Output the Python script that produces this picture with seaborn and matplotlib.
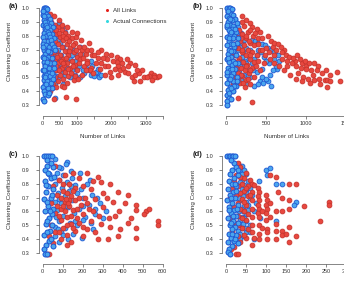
import matplotlib
matplotlib.use("Agg")
import matplotlib.pyplot as plt
from matplotlib.lines import Line2D
import pandas as pd
import seaborn as sns

# (links, clustering coefficient)
a_all = [
    (150, 0.92), (250, 0.90), (350, 0.88), (200, 0.85), (450, 0.86), (300, 0.83), (550, 0.84),
    (400, 0.81), (650, 0.82), (250, 0.79), (500, 0.79), (750, 0.80), (150, 0.77), (350, 0.76),
    (600, 0.77), (850, 0.78), (450, 0.74), (700, 0.74), (200, 0.73), (950, 0.75), (300, 0.71),
    (550, 0.72), (800, 0.71), (1050, 0.72), (400, 0.69), (650, 0.69), (150, 0.68), (900, 0.68),
    (1150, 0.70), (250, 0.66), (500, 0.66), (750, 0.66), (1000, 0.65), (1250, 0.67), (350, 0.63),
    (600, 0.63), (850, 0.62), (1100, 0.63), (200, 0.61), (450, 0.60), (700, 0.60), (950, 0.59),
    (1300, 0.62), (300, 0.58), (550, 0.57), (800, 0.57), (1200, 0.58), (150, 0.56), (400, 0.55),
    (650, 0.54), (1000, 0.55), (1400, 0.57), (250, 0.53), (500, 0.52), (750, 0.51), (1150, 0.52),
    (350, 0.50), (600, 0.49), (900, 0.48), (200, 0.48), (450, 0.47), (700, 0.46), (300, 0.45),
    (550, 0.44), (250, 0.42), (400, 0.43),
    (180, 0.88), (280, 0.86), (380, 0.84), (480, 0.82), (580, 0.80), (680, 0.78), (780, 0.76),
    (880, 0.73), (980, 0.70), (1080, 0.67), (1180, 0.64), (1280, 0.60), (1380, 0.55), (1480, 0.53),
    (230, 0.70), (330, 0.68), (430, 0.65), (530, 0.62), (630, 0.59), (730, 0.56), (830, 0.53),
    (930, 0.51), (1030, 0.49), (280, 0.62), (380, 0.58), (480, 0.55), (580, 0.60), (680, 0.64),
    (780, 0.69), (880, 0.58), (1050, 0.60), (1250, 0.55), (1300, 0.70), (1450, 0.66),
    (1708, 0.70), (1857, 0.67), (2006, 0.66), (1887, 0.63), (2155, 0.65), (2254, 0.63),
    (2155, 0.61), (2304, 0.60), (2453, 0.63), (2552, 0.60), (2701, 0.59), (2204, 0.58),
    (2105, 0.56), (2254, 0.55), (2403, 0.54), (2502, 0.53), (2602, 0.50), (2701, 0.52),
    (2800, 0.53), (2900, 0.55), (2949, 0.50), (2651, 0.47), (2850, 0.47), (3148, 0.53),
    (3247, 0.52), (3346, 0.50), (3396, 0.51), (3247, 0.50), (3098, 0.51), (1956, 0.54),
    (1807, 0.52), (2006, 0.50), (2204, 0.52), (1807, 0.58), (1708, 0.60), (1609, 0.64),
    (1658, 0.56), (1510, 0.66), (1410, 0.70), (1360, 0.75), (1211, 0.72), (1112, 0.77),
    (963, 0.79), (1013, 0.82), (864, 0.83), (715, 0.86), (566, 0.88), (467, 0.91), (318, 0.94),
    (218, 0.96), (1550, 0.60), (1600, 0.68), (1750, 0.64), (1900, 0.58), (2050, 0.62),
    (2350, 0.57), (2500, 0.58), (2750, 0.55), (3050, 0.50), (3200, 0.48),
    (963, 0.34), (665, 0.36), (318, 0.34), (218, 0.40), (615, 0.43),
]
a_actual = [
    (30, 1.0), (60, 1.0), (90, 1.0), (120, 0.99), (50, 0.97), (100, 0.96), (20, 0.95), (150, 0.94),
    (70, 0.93), (200, 0.92), (40, 0.91), (130, 0.90), (250, 0.89), (10, 0.88), (80, 0.87),
    (180, 0.87), (300, 0.86), (60, 0.85), (110, 0.84), (220, 0.84), (350, 0.83), (30, 0.82),
    (160, 0.82), (270, 0.81), (400, 0.80), (90, 0.80), (20, 0.79), (200, 0.78), (320, 0.78),
    (450, 0.77), (50, 0.76), (140, 0.76), (250, 0.75), (500, 0.75), (10, 0.74), (380, 0.74),
    (100, 0.73), (180, 0.72), (600, 0.72), (300, 0.71), (40, 0.70), (450, 0.70), (120, 0.69),
    (220, 0.68), (700, 0.68), (70, 0.67), (350, 0.67), (520, 0.66), (20, 0.65), (160, 0.65),
    (260, 0.64), (800, 0.64), (90, 0.63), (420, 0.63), (600, 0.62), (30, 0.61), (200, 0.60),
    (320, 0.60), (900, 0.60), (60, 0.59), (500, 0.58), (130, 0.57), (700, 0.57), (240, 0.56),
    (1000, 0.56), (10, 0.55), (380, 0.55), (80, 0.54), (560, 0.54), (180, 0.53), (1200, 0.53),
    (300, 0.52), (50, 0.51), (1400, 0.52), (1500, 0.51), (1600, 0.53), (1650, 0.50), (1550, 0.54),
    (450, 0.50), (120, 0.49), (800, 0.50), (30, 0.48), (220, 0.47), (350, 0.46), (70, 0.45),
    (600, 0.45), (160, 0.44), (20, 0.43), (280, 0.42), (100, 0.41), (40, 0.40), (60, 0.38),
    (150, 0.37), (20, 0.34), (50, 0.33), (350, 0.35), (1100, 0.72), (1150, 0.67), (1300, 0.60),
    (1400, 0.62), (1250, 0.57), (900, 0.70), (1000, 0.66), (750, 0.78), (650, 0.83), (550, 0.86),
    (480, 0.89), (850, 0.55), (950, 0.52), (1100, 0.50),
    (15, 0.98), (45, 0.94), (75, 0.90), (105, 0.88), (135, 0.86), (165, 0.83), (195, 0.81),
    (225, 0.79), (255, 0.77), (285, 0.74), (315, 0.72), (345, 0.70), (375, 0.68), (405, 0.66),
    (435, 0.64), (465, 0.61), (495, 0.59), (525, 0.57), (555, 0.56), (15, 0.72), (45, 0.64),
    (75, 0.58), (105, 0.52), (135, 0.47), (165, 0.42), (195, 0.39), (35, 0.55), (65, 0.50),
    (95, 0.45), (125, 0.61), (155, 0.69), (185, 0.57), (215, 0.51), (245, 0.46), (275, 0.53),
    (305, 0.49), (335, 0.57), (365, 0.62), (395, 0.51), (425, 0.57), (640, 0.52), (720, 0.62),
    (780, 0.70), (850, 0.66), (950, 0.62), (1050, 0.58), (1180, 0.55), (1350, 0.55),
    (1450, 0.58), (1600, 0.56), (1700, 0.52),
]

b_all = [
    (190, 0.94), (250, 0.91), (290, 0.89), (320, 0.86), (220, 0.87), (380, 0.85), (160, 0.84),
    (270, 0.83), (420, 0.83), (200, 0.81), (330, 0.80), (130, 0.79), (250, 0.78), (390, 0.78),
    (170, 0.76), (300, 0.75), (100, 0.74), (220, 0.73), (350, 0.73), (140, 0.71), (270, 0.70),
    (420, 0.70), (190, 0.68), (320, 0.68), (110, 0.66), (240, 0.66), (380, 0.66), (160, 0.64),
    (290, 0.63), (80, 0.62), (210, 0.61), (350, 0.61), (130, 0.60), (260, 0.59), (180, 0.57),
    (320, 0.57), (100, 0.56), (230, 0.55), (150, 0.53), (280, 0.53), (200, 0.51), (120, 0.50),
    (250, 0.48), (170, 0.46), (90, 0.45), (230, 0.43), (300, 0.45), (30, 0.35), (150, 0.35),
    (320, 0.32),
    (200, 0.90), (300, 0.84), (360, 0.82), (240, 0.80), (180, 0.78), (280, 0.76), (400, 0.74),
    (200, 0.70), (300, 0.66), (150, 0.62), (240, 0.58), (300, 0.55), (180, 0.52), (140, 0.48),
    (210, 0.46), (350, 0.50), (400, 0.62), (450, 0.70), (530, 0.68), (580, 0.72), (720, 0.70),
    (860, 0.62), (1000, 0.58), (1150, 0.58), (1300, 0.52), (1250, 0.55), (1080, 0.52),
    (950, 0.60), (760, 0.58), (690, 0.63), (600, 0.66), (470, 0.60), (420, 0.55), (370, 0.58),
    (270, 0.49), (120, 0.57), (70, 0.68), (110, 0.72),
    (560, 0.76), (600, 0.75), (640, 0.74), (680, 0.72), (620, 0.70), (700, 0.68), (740, 0.66),
    (780, 0.65), (830, 0.64), (880, 0.66), (920, 0.63), (980, 0.62), (1030, 0.60), (1100, 0.60),
    (760, 0.62), (820, 0.60), (870, 0.58), (930, 0.57), (990, 0.56), (1060, 0.55), (1135, 0.55),
    (1200, 0.53), (900, 0.53), (960, 0.50), (1020, 0.49), (1090, 0.48), (1160, 0.49), (1230, 0.48),
    (1260, 0.48), (1300, 0.47), (1380, 0.54), (1423, 0.47), (1260, 0.43), (1170, 0.45),
    (1050, 0.46), (940, 0.47), (870, 0.49), (800, 0.52), (720, 0.55), (660, 0.58), (600, 0.60),
    (540, 0.63), (480, 0.66), (500, 0.71), (450, 0.78), (520, 0.80),
]
b_actual = [
    (10, 1.0), (30, 1.0), (50, 1.0), (70, 0.99), (20, 0.97), (60, 0.96), (90, 0.95), (10, 0.94),
    (40, 0.93), (110, 0.92), (70, 0.91), (20, 0.90), (130, 0.89), (50, 0.88), (90, 0.87),
    (10, 0.86), (150, 0.86), (70, 0.85), (30, 0.84), (120, 0.83), (180, 0.82), (50, 0.81),
    (100, 0.80), (10, 0.79), (160, 0.79), (80, 0.78), (220, 0.77), (30, 0.76), (130, 0.75),
    (60, 0.74), (190, 0.74), (10, 0.73), (100, 0.72), (250, 0.71), (40, 0.70), (150, 0.70),
    (80, 0.69), (210, 0.68), (20, 0.67), (120, 0.66), (60, 0.65), (280, 0.65), (170, 0.64),
    (10, 0.63), (90, 0.62), (230, 0.62), (40, 0.61), (140, 0.60), (320, 0.60), (70, 0.59),
    (200, 0.58), (20, 0.57), (110, 0.56), (260, 0.56), (50, 0.55), (160, 0.54), (380, 0.54),
    (90, 0.53), (10, 0.52), (220, 0.52), (60, 0.51), (130, 0.50), (300, 0.50), (30, 0.49),
    (180, 0.48), (80, 0.47), (420, 0.47), (10, 0.46), (240, 0.45), (120, 0.44), (50, 0.43),
    (350, 0.44), (20, 0.41), (90, 0.40), (10, 0.37), (40, 0.35), (10, 0.33), (5, 0.30), (60, 0.34),
    (25, 0.98), (45, 0.92), (15, 0.88), (65, 0.83), (35, 0.78), (85, 0.74), (55, 0.69), (25, 0.64),
    (105, 0.60), (75, 0.56), (15, 0.54), (45, 0.49), (95, 0.44), (35, 0.39), (65, 0.42),
    (135, 0.47), (165, 0.58), (195, 0.65), (145, 0.78), (115, 0.85), (175, 0.72), (240, 0.60),
    (270, 0.52), (330, 0.55), (350, 0.63), (400, 0.70), (470, 0.65), (530, 0.60), (600, 0.63),
    (630, 0.56), (520, 0.47), (440, 0.50),
    (320, 0.77), (360, 0.76), (400, 0.75), (440, 0.74), (480, 0.73), (520, 0.71), (560, 0.70),
    (600, 0.68), (640, 0.66), (660, 0.62), (620, 0.58), (580, 0.55), (540, 0.52), (500, 0.49),
    (460, 0.46), (400, 0.45), (560, 0.44), (450, 0.56), (500, 0.62), (380, 0.66), (300, 0.70),
    (430, 0.68),
]

c_all = [
    (60, 0.93), (152, 0.88), (219, 0.88), (110, 0.86), (277, 0.85), (180, 0.84), (80, 0.83),
    (252, 0.82), (293, 0.81), (335, 0.80), (130, 0.80), (200, 0.78), (50, 0.78), (160, 0.77),
    (240, 0.76), (376, 0.74), (100, 0.75), (120, 0.73), (300, 0.73), (426, 0.72), (70, 0.72),
    (140, 0.71), (210, 0.70), (260, 0.69), (160, 0.68), (110, 0.67), (350, 0.67), (467, 0.65),
    (40, 0.66), (190, 0.65), (130, 0.64), (300, 0.63), (90, 0.62), (230, 0.62), (150, 0.61),
    (467, 0.61), (517, 0.60), (380, 0.60), (60, 0.59), (200, 0.58), (505, 0.58), (280, 0.57),
    (120, 0.56), (170, 0.55), (330, 0.55), (90, 0.54), (240, 0.53), (575, 0.53), (426, 0.52),
    (140, 0.51), (40, 0.50), (290, 0.51), (575, 0.50), (200, 0.49), (335, 0.49), (100, 0.48),
    (467, 0.48), (384, 0.47), (160, 0.46), (60, 0.45), (260, 0.45), (120, 0.43), (376, 0.42),
    (30, 0.42), (200, 0.42), (467, 0.41), (326, 0.40), (277, 0.40), (90, 0.40), (140, 0.38),
    (50, 0.37), (120, 0.36), (20, 0.29), (30, 0.29),
    (100, 0.80), (150, 0.75), (180, 0.70), (130, 0.68), (90, 0.70), (70, 0.64), (170, 0.62),
    (110, 0.60), (220, 0.66), (140, 0.57), (80, 0.57), (180, 0.52), (120, 0.50), (220, 0.47),
    (80, 0.45), (150, 0.48), (250, 0.60), (320, 0.70), (360, 0.57), (410, 0.66), (440, 0.55),
    (530, 0.62), (100, 0.64), (125, 0.66), (115, 0.69),
]
c_actual = [
    (5, 1.0), (15, 1.0), (25, 1.0), (35, 1.0), (45, 1.0), (60, 0.98), (120, 0.96), (115, 0.94),
    (20, 0.93), (50, 0.92), (90, 0.91), (10, 0.90), (140, 0.89), (70, 0.88), (30, 0.87),
    (186, 0.88), (100, 0.86), (144, 0.84), (40, 0.84), (80, 0.83), (235, 0.83), (10, 0.82),
    (120, 0.81), (60, 0.80), (219, 0.80), (160, 0.79), (25, 0.78), (95, 0.77), (190, 0.76),
    (50, 0.76), (130, 0.75), (15, 0.74), (75, 0.73), (170, 0.73), (244, 0.72), (110, 0.71),
    (40, 0.70), (200, 0.70), (5, 0.69), (145, 0.68), (60, 0.67), (285, 0.66), (90, 0.66),
    (230, 0.65), (25, 0.64), (125, 0.63), (180, 0.62), (70, 0.61), (318, 0.60), (10, 0.60),
    (155, 0.59), (260, 0.58), (45, 0.58), (100, 0.57), (210, 0.56), (30, 0.55), (202, 0.54),
    (80, 0.53), (135, 0.52), (15, 0.51), (170, 0.50), (60, 0.49), (110, 0.48), (250, 0.47),
    (35, 0.46), (90, 0.45), (150, 0.44), (5, 0.43), (60, 0.42), (194, 0.41), (125, 0.40),
    (30, 0.39), (80, 0.38), (15, 0.36), (50, 0.35), (5, 0.33), (10, 0.29), (20, 0.29),
    (300, 0.55), (270, 0.70), (240, 0.52),
    (20, 0.97), (40, 0.95), (80, 0.92), (25, 0.88), (55, 0.85), (15, 0.79), (45, 0.72), (20, 0.67),
    (50, 0.62), (35, 0.60), (65, 0.56), (20, 0.53), (45, 0.50), (75, 0.47), (20, 0.45), (40, 0.40),
    (100, 0.43), (160, 0.53), (110, 0.64), (80, 0.69), (140, 0.78), (200, 0.64), (260, 0.62),
]

d_all = [
    (30, 0.95), (35, 0.92), (50, 0.88), (25, 0.86), (45, 0.84), (60, 0.83), (20, 0.82), (40, 0.80),
    (64, 0.80), (30, 0.78), (55, 0.78), (78, 0.77), (15, 0.76), (45, 0.75), (64, 0.74), (81, 0.74),
    (25, 0.72), (55, 0.71), (78, 0.71), (98, 0.72), (10, 0.70), (40, 0.69), (64, 0.68), (81, 0.68),
    (102, 0.68), (157, 0.68), (30, 0.66), (50, 0.65), (78, 0.65), (98, 0.65), (20, 0.63),
    (64, 0.62), (81, 0.62), (102, 0.62), (157, 0.62), (194, 0.64), (256, 0.67), (256, 0.65),
    (45, 0.60), (78, 0.59), (98, 0.59), (123, 0.60), (30, 0.57), (64, 0.56), (81, 0.56), (10, 0.55),
    (50, 0.54), (98, 0.54), (235, 0.53), (123, 0.51), (25, 0.52), (64, 0.50), (81, 0.50),
    (157, 0.49), (40, 0.48), (102, 0.47), (140, 0.46), (123, 0.46), (15, 0.46), (64, 0.45),
    (81, 0.44), (102, 0.45), (140, 0.43), (30, 0.42), (173, 0.42), (50, 0.41), (81, 0.40),
    (102, 0.40), (123, 0.40), (157, 0.38), (64, 0.36), (20, 0.34), (12, 0.33), (25, 0.29),
    (30, 0.29), (110, 0.86), (123, 0.85), (157, 0.80), (173, 0.80), (140, 0.60), (140, 0.70),
    (35, 0.85), (50, 0.77), (35, 0.73), (60, 0.72), (45, 0.67), (35, 0.62), (55, 0.58), (40, 0.55),
    (30, 0.50), (55, 0.47), (45, 0.43), (35, 0.38), (70, 0.79), (90, 0.60), (90, 0.48), (70, 0.41),
    (110, 0.56), (110, 0.66), (130, 0.74), (150, 0.44),
]
d_actual = [
    (2, 1.0), (6, 1.0), (10, 1.0), (14, 1.0), (18, 1.0), (22, 1.0), (20, 0.95), (30, 0.94),
    (25, 0.92), (40, 0.93), (15, 0.90), (35, 0.89), (45, 0.90), (10, 0.87), (28, 0.86), (50, 0.87),
    (20, 0.84), (40, 0.83), (8, 0.82), (33, 0.81), (55, 0.82), (15, 0.80), (45, 0.79), (25, 0.78),
    (60, 0.77), (5, 0.76), (38, 0.76), (18, 0.74), (50, 0.74), (30, 0.73), (10, 0.72), (42, 0.71),
    (22, 0.70), (60, 0.70), (3, 0.68), (35, 0.68), (50, 0.67), (15, 0.66), (28, 0.65), (45, 0.64),
    (8, 0.63), (38, 0.62), (20, 0.61), (55, 0.61), (32, 0.60), (12, 0.59), (48, 0.58), (25, 0.57),
    (40, 0.56), (5, 0.55), (35, 0.54), (18, 0.53), (50, 0.53), (28, 0.52), (42, 0.51), (10, 0.50),
    (22, 0.49), (38, 0.48), (15, 0.47), (30, 0.46), (48, 0.45), (8, 0.44), (25, 0.43), (40, 0.42),
    (12, 0.41), (35, 0.40), (20, 0.39), (5, 0.38), (28, 0.37), (15, 0.35), (8, 0.33), (4, 0.31),
    (10, 0.29), (102, 0.86), (98, 0.90), (110, 0.91), (81, 0.82), (123, 0.80), (140, 0.80),
    (173, 0.67), (168, 0.65), (123, 0.53), (68, 0.40), (65, 0.72), (70, 0.60), (85, 0.55),
    (60, 0.50), (75, 0.66), (58, 0.45),
    (12, 0.97), (28, 0.90), (38, 0.87), (22, 0.80), (48, 0.76), (12, 0.70), (27, 0.62), (18, 0.57),
    (45, 0.55), (30, 0.50), (15, 0.44), (35, 0.44), (22, 0.40), (50, 0.48), (55, 0.65), (42, 0.60),
    (8, 0.61), (32, 0.70), (25, 0.75), (12, 0.52),
]

a_xticks = [0, 500, 1000, 1500, 2000, 2500, 3000, 3500]
a_xlabels = ["0", "500", "1000", "", "2000", "", "3000", ""]
b_xticks = [0, 500, 1000, 1500]
c_xticks = [0, 100, 200, 300, 400, 500, 600]
d_xticks = [0, 50, 100, 150, 200, 250, 300]
y_ticks = [0.3, 0.4, 0.5, 0.6, 0.7, 0.8, 0.9, 1.0]

RED_FILL, RED_EDGE = "#e8483f", "#c9332c"
BLUE_FILL, BLUE_EDGE = "#4aa6ee", "#1f58d2"
TXT = "#333333"

sns.set_style("ticks")
plt.rcParams["font.family"] = ["Liberation Sans", "DejaVu Sans"]

W, H = 344, 281
fig = plt.figure(figsize=(W / 100, H / 100), dpi=100)

panels = [
    ("(a)", a_all, a_actual, a_xticks, a_xlabels, 42.7, 8, True),
    ("(b)", b_all, b_actual, b_xticks, None, 226.3, 8, True),
    ("(c)", c_all, c_actual, c_xticks, None, 42.7, 156, False),
    ("(d)", d_all, d_actual, d_xticks, None, 226.3, 156, False),
]

PX_X = 120.0          # pixels from 0 to last x tick
PX_Y = 138.6          # pixels per 1.0 of clustering coefficient
MS = 12
for tag, all_pts, act_pts, xticks, xlabels, x0, y1, top_row in panels:
    xmax = xticks[-1]
    xlo, xhi = -0.035 * xmax, 1.04 * xmax
    ylo, yhi = 0.27, 1.03
    left = x0 + xlo / xmax * PX_X
    width = (xhi - xlo) / xmax * PX_X
    top = y1 - (yhi - 1.0) * PX_Y
    height = (yhi - ylo) * PX_Y
    ax = fig.add_axes([left / W, 1 - (top + height) / H, width / W, height / H])

    df_all = pd.DataFrame(all_pts, columns=["links", "cc"])
    df_act = pd.DataFrame(act_pts, columns=["links", "cc"])
    sns.scatterplot(data=df_act, x="links", y="cc", ax=ax, s=MS, color=BLUE_FILL,
                    edgecolor=BLUE_EDGE, linewidth=0.6, clip_on=False)
    sns.scatterplot(data=df_all, x="links", y="cc", ax=ax, s=MS, color=RED_FILL,
                    edgecolor=RED_EDGE, linewidth=0.6, clip_on=False)
    # blue again on the dense left part so both colours interleave
    sns.scatterplot(data=df_act[df_act["links"] < 0.1 * xmax], x="links", y="cc", ax=ax,
                    s=MS, color=BLUE_FILL, edgecolor=BLUE_EDGE, linewidth=0.6, clip_on=False)

    ax.set_xlim(xlo, xhi)
    ax.set_ylim(ylo, yhi)
    ax.set_xticks(xticks)
    if xlabels is not None:
        ax.set_xticklabels(xlabels)
    ax.set_yticks(y_ticks)
    ax.set_yticklabels([f"{v:.1f}" for v in y_ticks])
    ax.tick_params(axis="both", labelsize=4, colors="#555555", labelcolor=TXT,
                   length=2.4, width=0.5, direction="out")
    ax.tick_params(axis="x", pad=1.2)
    ax.tick_params(axis="y", pad=4)
    sns.despine(ax=ax)
    ax.spines["left"].set_bounds(0.3, 1.0)
    ax.spines["bottom"].set_bounds(0, xmax)
    ax.spines["bottom"].set_position(("outward", 4.9))
    for sp in ("left", "bottom"):
        ax.spines[sp].set_linewidth(0.5)
        ax.spines[sp].set_color("#555555")

    if top_row:
        ax.set_xlabel("Number of Links", fontsize=4.5, color=TXT)
        ax.xaxis.set_label_coords(0.5, -0.24)
    else:
        ax.set_xlabel("")
    ax.set_ylabel("Clustering Coefficient", fontsize=4.5, color=TXT)
    ax.yaxis.set_label_coords(-0.205, 0.55)
    fig.text((x0 - 34) / W, 1 - (y1 - 2) / H, tag, fontsize=5.5, fontweight="bold",
             color="#222222", ha="left", va="center")

    if tag == "(a)":
        handles = [
            Line2D([], [], marker="o", linestyle="", markersize=2.2, color="#e4211c",
                   markeredgewidth=0, label="All Links"),
            Line2D([], [], marker="o", linestyle="", markersize=2.2, color="#33d8e0",
                   markeredgewidth=0, label="Actual Connections"),
        ]
        ax.legend(handles=handles, loc="upper left", bbox_to_anchor=(100 / W, 1 - 3 / H),
                  bbox_transform=fig.transFigure, frameon=False, fontsize=4.5,
                  handlelength=0.8, handletextpad=0.6, labelspacing=0.9, borderpad=0.2,
                  labelcolor=TXT)

fig.savefig("out.png", dpi=100)
